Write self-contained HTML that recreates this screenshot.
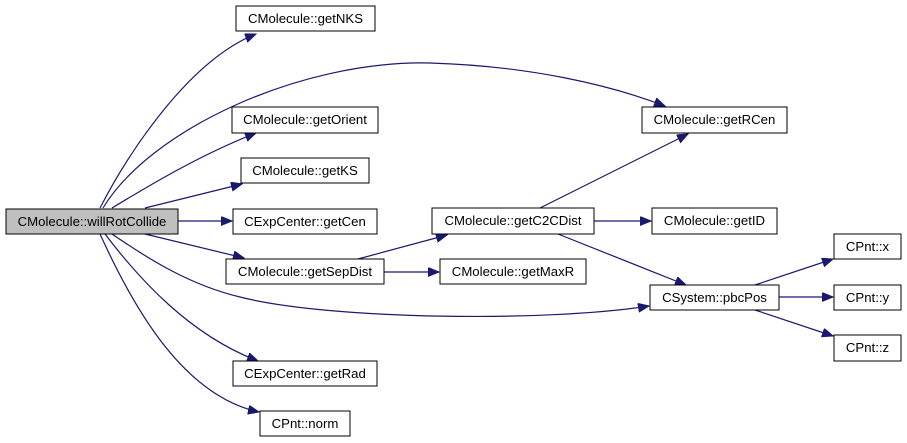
<!DOCTYPE html>
<html><head><meta charset="utf-8"><style>
html,body{margin:0;padding:0;background:#fff;}
svg{display:block;}
text{font-family:"Liberation Sans",Arial,sans-serif;font-size:13.2px;fill:#000;}
</style></head><body>
<svg width="907" height="443" viewBox="0 0 907 443" xmlns="http://www.w3.org/2000/svg">
<defs>
<marker id="a" markerUnits="userSpaceOnUse" markerWidth="12" markerHeight="10" refX="11" refY="4.5" orient="auto">
<path d="M0,0 L11,4.5 L0,9 Z" fill="#191970" stroke="#191970"/>
</marker>
</defs>
<g fill="none" stroke="#191970" stroke-width="1.2" marker-end="url(#a)">
<path d="M100,208 C130,150 190,60 256,34"/>
<path d="M103,208 C150,130 300,60 430,63 C530,66 610,85 665,106"/>
<path d="M112,208 C150,185 200,155 256,133"/>
<path d="M145,208 L242,184"/>
<path d="M178,221 L232,221"/>
<path d="M145,234 L244,258"/>
<path d="M112,234 C150,260 190,285 240,297 C330,320 550,322 649,306"/>
<path d="M105,234 C140,280 190,335 258,361"/>
<path d="M100,234 C130,300 180,395 259,412"/>
<path d="M358,259 L447,235"/>
<path d="M384,272 L439,272"/>
<path d="M540,208 L688,134"/>
<path d="M594,221 L651,221"/>
<path d="M558,234 L686,285"/>
<path d="M755,285 L833,259"/>
<path d="M779,297 L833,297"/>
<path d="M755,310 L833,336"/>
</g>
<g stroke="#000" stroke-width="1" fill="#fff">
<rect x="6" y="209" width="172" height="25" fill="#bfbfbf"/>
<rect x="236" y="6" width="139" height="25"/>
<rect x="232" y="107" width="146" height="26"/>
<rect x="241" y="158" width="128" height="25"/>
<rect x="233" y="209" width="144" height="25"/>
<rect x="226" y="259" width="158" height="25"/>
<rect x="233" y="361" width="144" height="25"/>
<rect x="260" y="411" width="90" height="25"/>
<rect x="642" y="107" width="145" height="26"/>
<rect x="432" y="208" width="162" height="26"/>
<rect x="652" y="208" width="125" height="26"/>
<rect x="440" y="259" width="146" height="25"/>
<rect x="650" y="285" width="129" height="25"/>
<rect x="834" y="234" width="67" height="25"/>
<rect x="834" y="285" width="67" height="25"/>
<rect x="834" y="335" width="67" height="26"/>
</g>
<g text-anchor="middle">
<text x="92" y="226">CMolecule::willRotCollide</text>
<text x="305.5" y="23">CMolecule::getNKS</text>
<text x="305" y="124">CMolecule::getOrient</text>
<text x="305" y="175">CMolecule::getKS</text>
<text x="305" y="226">CExpCenter::getCen</text>
<text x="305" y="276">CMolecule::getSepDist</text>
<text x="305" y="378">CExpCenter::getRad</text>
<text x="305" y="428">CPnt::norm</text>
<text x="714.5" y="124">CMolecule::getRCen</text>
<text x="513" y="225">CMolecule::getC2CDist</text>
<text x="714.5" y="225">CMolecule::getID</text>
<text x="513" y="276">CMolecule::getMaxR</text>
<text x="714.5" y="302">CSystem::pbcPos</text>
<text x="867.5" y="251">CPnt::x</text>
<text x="867.5" y="302">CPnt::y</text>
<text x="867.5" y="352">CPnt::z</text>
</g>
</svg>
</body></html>
